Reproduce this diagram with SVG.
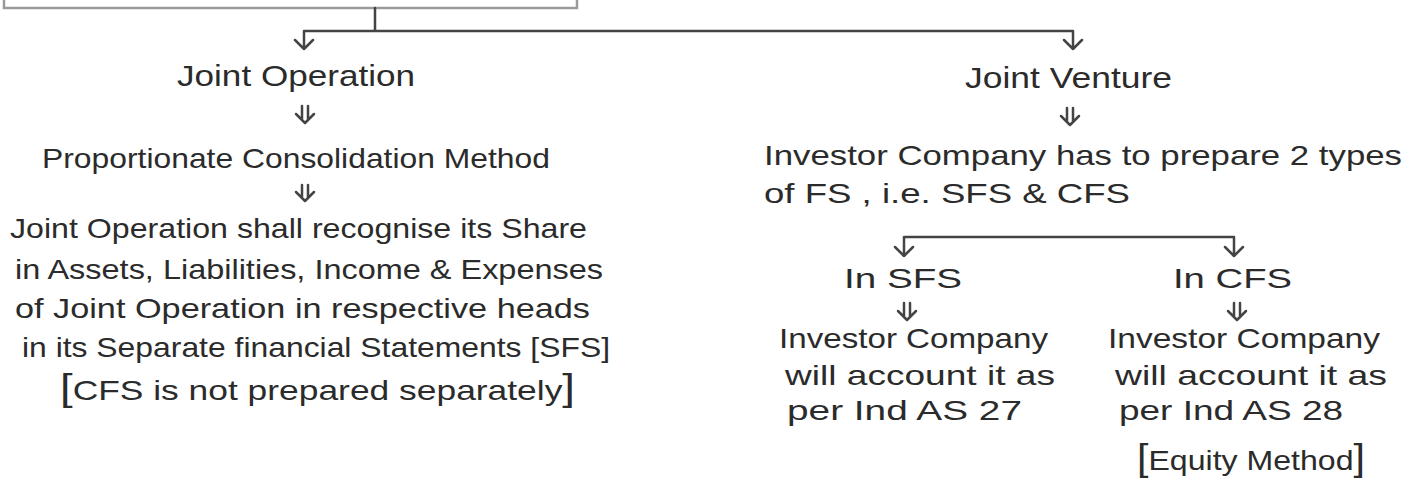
<svg xmlns="http://www.w3.org/2000/svg" width="1411" height="481" viewBox="0 0 1411 481">
<style>
.t{font-family:"Liberation Sans","DejaVu Sans",sans-serif;font-size:28px;fill:#2b2b2b;}
.big{font-size:30px;}
.br{font-size:36px;}
.ln{fill:none;stroke:#444;stroke-width:2.5;stroke-linecap:round;stroke-linejoin:round;}
.box{fill:#fff;stroke:#9a9a9a;stroke-width:2.5;}
</style>
<rect width="1411" height="481" fill="#fff"/>
<g id="top-box"><rect class="box" x="4" y="-30" width="573" height="38"/></g>
<g id="connectors">
<path class="ln" d="M375,8 V31 M304,31 H1073 M304,31 V49 M1073,31 V49 M295,40 L304,49 L313,40 M1064,40 L1073,49 L1082,40"/>
<path class="ln" d="M904,237 H1234 M904,237 V256 M1234,237 V256 M895,247 L904,256 L913,247 M1225,247 L1234,256 L1243,247"/>
<path class="ln" d="M302,106 V119 M308,106 V119 M296,114 L305,123 L314,114"/>
<path class="ln" d="M302,185 V197 M308,185 V197 M296,192 L305,201 L314,192"/>
<path class="ln" d="M1067,108 V121 M1073,108 V121 M1061,116 L1070,125 L1079,116"/>
<path class="ln" d="M904,303 V316 M910,303 V316 M898,311 L907,320 L916,311"/>
<path class="ln" d="M1234,303 V316 M1240,303 V316 M1228,311 L1237,320 L1246,311"/>
</g>
<g id="joint-operation"><text class="t big" x="177" y="86" textLength="238" lengthAdjust="spacingAndGlyphs">Joint Operation</text></g>
<g id="proportionate"><text class="t" x="42" y="168" textLength="508" lengthAdjust="spacingAndGlyphs">Proportionate Consolidation Method</text></g>
<g id="jo-detail">
<text class="t" x="10" y="238" textLength="577" lengthAdjust="spacingAndGlyphs">Joint Operation shall recognise its Share</text>
<text class="t" x="15" y="279" textLength="588" lengthAdjust="spacingAndGlyphs">in Assets, Liabilities, Income &amp; Expenses</text>
<text class="t" x="15" y="318" textLength="575" lengthAdjust="spacingAndGlyphs">of Joint Operation in respective heads</text>
<text class="t" x="22" y="357" textLength="588" lengthAdjust="spacingAndGlyphs">in its Separate financial Statements [SFS]</text>
<text class="t" x="60" y="400" textLength="515" lengthAdjust="spacingAndGlyphs"><tspan class="br">[</tspan>CFS is not prepared separately<tspan class="br">]</tspan></text>
</g>
<g id="joint-venture"><text class="t big" x="965" y="88" textLength="207" lengthAdjust="spacingAndGlyphs">Joint Venture</text></g>
<g id="investor-fs">
<text class="t" x="764" y="165" textLength="638" lengthAdjust="spacingAndGlyphs">Investor Company has to prepare 2 types</text>
<text class="t" x="764" y="203" textLength="366" lengthAdjust="spacingAndGlyphs">of FS , i.e. SFS &amp; CFS</text>
</g>
<g id="in-sfs"><text class="t" x="844" y="288" textLength="118" lengthAdjust="spacingAndGlyphs">In SFS</text></g>
<g id="in-cfs"><text class="t" x="1173" y="288" textLength="119" lengthAdjust="spacingAndGlyphs">In CFS</text></g>
<g id="sfs-detail">
<text class="t" x="779" y="348" textLength="269" lengthAdjust="spacingAndGlyphs">Investor Company</text>
<text class="t" x="785" y="385" textLength="270" lengthAdjust="spacingAndGlyphs">will account it as</text>
<text class="t" x="787" y="420" textLength="235" lengthAdjust="spacingAndGlyphs">per Ind AS 27</text>
</g>
<g id="cfs-detail">
<text class="t" x="1108" y="348" textLength="272" lengthAdjust="spacingAndGlyphs">Investor Company</text>
<text class="t" x="1115" y="385" textLength="272" lengthAdjust="spacingAndGlyphs">will account it as</text>
<text class="t" x="1119" y="420" textLength="224" lengthAdjust="spacingAndGlyphs">per Ind AS 28</text>
<text class="t" x="1137" y="470" textLength="228" lengthAdjust="spacingAndGlyphs"><tspan class="br">[</tspan>Equity Method<tspan class="br">]</tspan></text>
</g>
</svg>
